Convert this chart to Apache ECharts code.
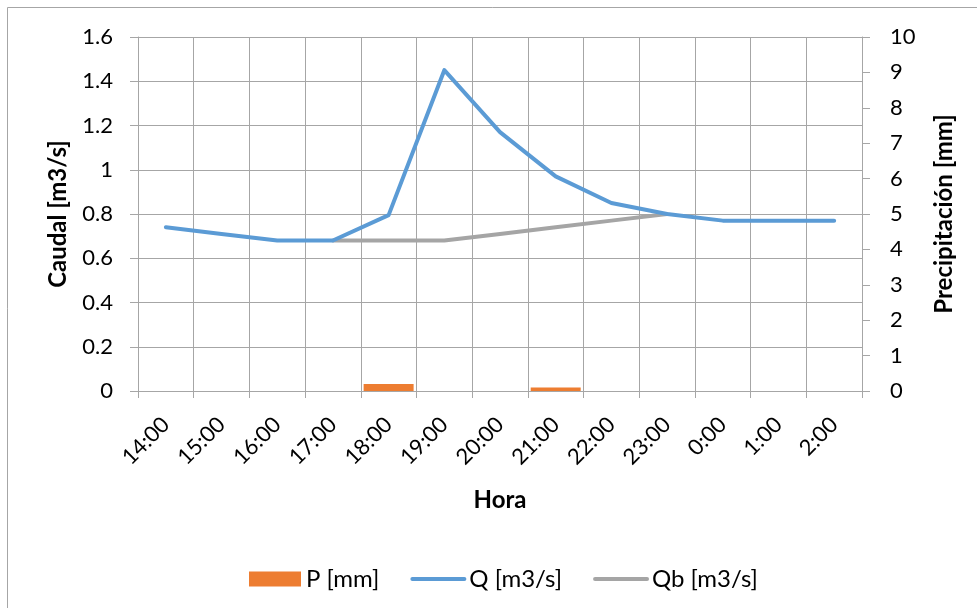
<!DOCTYPE html>
<html>
<head>
<meta charset="utf-8">
<script src="https://cdn.jsdelivr.net/npm/echarts@6/dist/echarts.min.js"></script>
<style>html,body{margin:0;padding:0;background:#fff}#c{width:977px;height:608px}</style>
</head>
<body>
<div id="c"></div>
<script>
var categories = ['14:00','15:00','16:00','17:00','18:00','19:00','20:00','21:00','22:00','23:00','0:00','1:00','2:00'];
var P = [0, 0, 0, 0, 0.2, 0, 0, 0.1, 0, 0, 0, 0, 0];
var Q = [0.74, 0.71, 0.68, 0.68, 0.795, 1.45, 1.17, 0.97, 0.85, 0.80, 0.77, 0.77, 0.77];
var Qb = [null, null, null, 0.68, 0.68, 0.68, 0.71, 0.74, 0.77, 0.80, null, null, null];
var leftTicks = {min: 0, max: 1.6, interval: 0.2};
var rightTicks = {min: 0, max: 10, interval: 1};

var FONT = 'Lato';
var gridColor = '#a6a6a6';
var titleStyle = {fontFamily: FONT, fontSize: 24, fontWeight: 'bold', color: '#000'};
var chart = echarts.init(document.getElementById('c'), null, {renderer: 'canvas'});
chart.setOption({
  animation: false,
  backgroundColor: '#fff',
  textStyle: {fontFamily: FONT, color: '#000'},
  graphic: [{
    type: 'rect', shape: {x: 7.5, y: 7.5, width: 985, height: 620},
    style: {fill: 'none', stroke: gridColor, lineWidth: 1}, silent: true, z: -10
  }],
  grid: {left: 138, right: 115, top: 37, bottom: 217, containLabel: false},
  legend: {
    left: 244, top: 562, itemWidth: 52, itemHeight: 15, itemGap: 31,
    textStyle: {fontFamily: FONT, fontSize: 24, color: '#000'},
    data: [
      {name: 'P [mm]', icon: 'rect'},
      {name: 'Q [m3/s]', itemStyle: {opacity: 0}, lineStyle: {width: 4, cap: 'round'}},
      {name: 'Qb [m3/s]', itemStyle: {opacity: 0}, lineStyle: {width: 4, cap: 'round'}}
    ]
  },
  xAxis: {
    type: 'category', data: categories, boundaryGap: true,
    name: 'Hora', nameLocation: 'middle', nameGap: 97,
    nameTextStyle: titleStyle,
    axisLine: {show: true, lineStyle: {color: gridColor, width: 1}},
    axisTick: {show: true, length: 7, lineStyle: {color: gridColor}},
    axisLabel: {rotate: 45, interval: 0, margin: 30, fontFamily: FONT, fontSize: 22, color: '#000'},
    splitLine: {show: true, lineStyle: {color: gridColor, width: 1}}
  },
  yAxis: [{
    type: 'value', min: leftTicks.min, max: leftTicks.max, interval: leftTicks.interval,
    name: 'Caudal [m3/s]', nameLocation: 'middle', nameGap: 68,
    nameTextStyle: titleStyle,
    axisLine: {show: true, lineStyle: {color: gridColor}},
    axisTick: {show: true, length: 8, lineStyle: {color: gridColor}},
    axisLabel: {margin: 25, fontFamily: FONT, fontSize: 22, color: '#000'},
    splitLine: {show: true, lineStyle: {color: gridColor, width: 1}}
  }, {
    type: 'value', min: rightTicks.min, max: rightTicks.max, interval: rightTicks.interval,
    position: 'right',
    name: 'Precipitación [mm]', nameLocation: 'middle', nameGap: 70,
    nameTextStyle: titleStyle,
    axisLine: {show: true, lineStyle: {color: gridColor}},
    axisTick: {show: true, length: 8, lineStyle: {color: gridColor}},
    axisLabel: {margin: 28, fontFamily: FONT, fontSize: 22, color: '#000'},
    splitLine: {show: false}
  }],
  series: [{
    name: 'P [mm]', type: 'bar', yAxisIndex: 1, data: P, barWidth: 50,
    itemStyle: {color: '#ED7D31'}
  }, {
    name: 'Q [m3/s]', type: 'line', yAxisIndex: 0, data: Q, symbol: 'none',
    lineStyle: {color: '#5B9BD5', width: 4, cap: 'round', join: 'round'}, itemStyle: {color: '#5B9BD5'}, z: 3
  }, {
    name: 'Qb [m3/s]', type: 'line', yAxisIndex: 0, data: Qb, symbol: 'none',
    lineStyle: {color: '#A5A5A5', width: 4, cap: 'round', join: 'round'}, itemStyle: {color: '#A5A5A5'}, z: 2
  }]
});
</script>
</body>
</html>
